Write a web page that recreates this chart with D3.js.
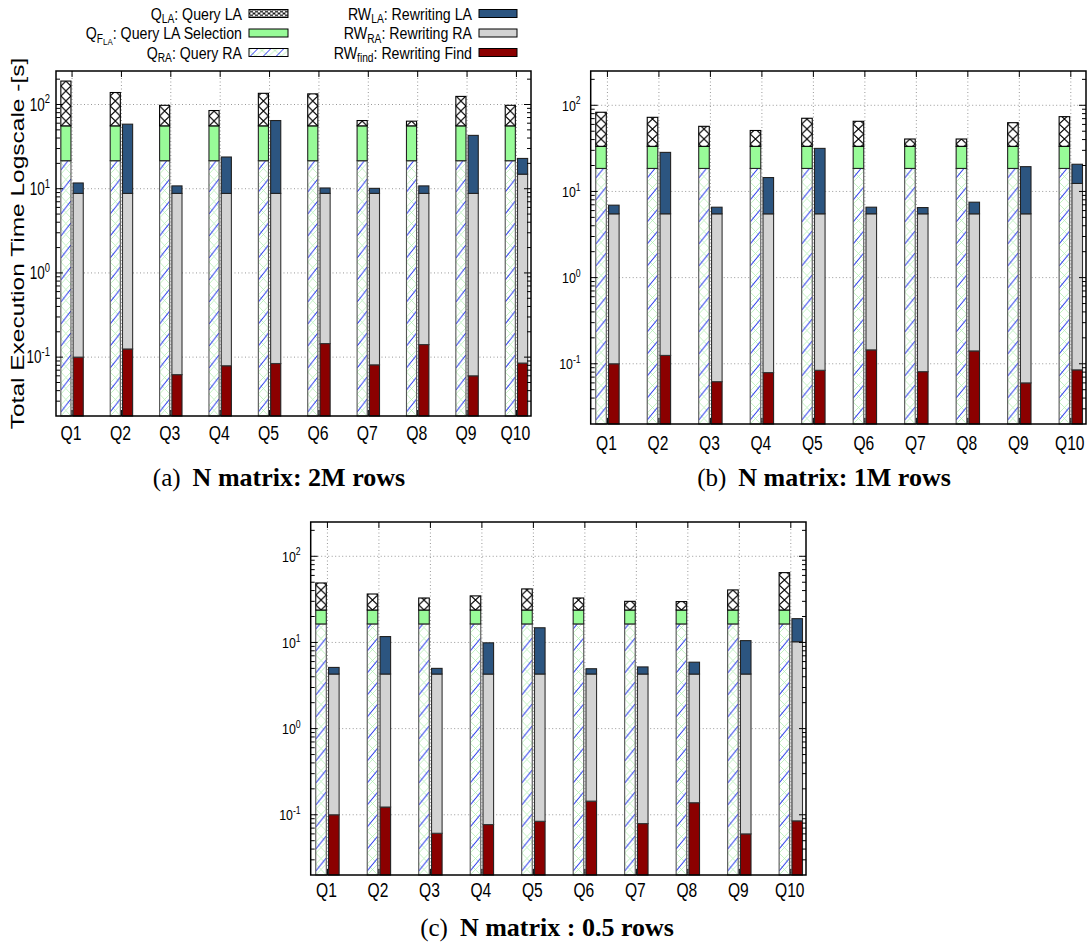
<!DOCTYPE html>
<html>
<head>
<meta charset="utf-8">
<script src="https://cdn.jsdelivr.net/npm/d3@7"></script>
<style>
  body { margin: 0; background: #fff; }
  svg { display: block; }
</style>
</head>
<body>
<svg width="1089" height="945"></svg>
<script>
const queries = ['Q1', 'Q2', 'Q3', 'Q4', 'Q5', 'Q6', 'Q7', 'Q8', 'Q9', 'Q10']
const yTicks = [0.1, 1, 10, 100]
const yTickExp = ['-1', '0', '1', '2']

// segment times [s], stacked bottom-up. left bar: Q_RA, Q_FLA, Q_LA ; right bar: RW_find, RW_RA, RW_LA
// (a) N matrix: 2M rows
const qRA2M = [21.5, 21.5, 21.5, 21.5, 21.5, 21.5, 21.5, 21.5, 21.5, 21.5]
const qFLA2M = [34.3, 34.3, 34.3, 34.3, 34.3, 34.3, 34.3, 34.3, 34.3, 34.3]
const qLA2M = [134, 83, 42, 29, 80, 78, 8.7, 7.6, 69, 42]
const rwFind2M = [0.1, 0.125, 0.062, 0.079, 0.084, 0.145, 0.081, 0.141, 0.06, 0.085]
const rwRA2M = [8.7, 8.68, 8.74, 8.72, 8.72, 8.66, 8.72, 8.66, 8.74, 14.8]
const rwLA2M = [2.9, 49.6, 2.0, 15, 55.7, 1.4, 1.3, 2.0, 34.2, 8.0]

// (b) N matrix: 1M rows
const qRA1M = [18.5, 18.5, 18.5, 18.5, 18.5, 18.5, 18.5, 18.5, 18.5, 18.5]
const qFLA1M = [14.9, 14.9, 14.9, 14.9, 14.9, 14.9, 14.9, 14.9, 14.9, 14.9]
const qLA1M = [49.6, 39.1, 23.6, 17.6, 37.3, 31.8, 7.2, 7.2, 29.4, 40.4]
const rwFind1M = [0.1, 0.125, 0.062, 0.079, 0.084, 0.145, 0.081, 0.141, 0.06, 0.085]
const rwRA1M = [5.4, 5.38, 5.44, 5.42, 5.42, 5.36, 5.42, 5.36, 5.44, 12.3]
const rwLA1M = [1.43, 22.9, 1.06, 9.0, 26.1, 1.06, 1.0, 2.0, 13.9, 8.3]

// (c) N matrix : 0.5 rows
const qRAHalf = [16.4, 16.4, 16.4, 16.4, 16.4, 16.4, 16.4, 16.4, 16.4, 16.4]
const qFLAHalf = [7.4, 7.4, 7.4, 7.4, 7.4, 7.4, 7.4, 7.4, 7.4, 7.4]
const qLAHalf = [25.2, 12.7, 9.0, 10.9, 18.0, 9.0, 6.2, 6.0, 16.9, 40.8]
const rwFindHalf = [0.1, 0.123, 0.061, 0.077, 0.084, 0.144, 0.079, 0.138, 0.06, 0.085]
const rwRAHalf = [4.2, 4.18, 4.24, 4.22, 4.22, 4.16, 4.22, 4.16, 4.24, 10.1]
const rwLAHalf = [0.83, 7.4, 0.7, 5.6, 10.5, 0.65, 0.9, 1.6, 6.2, 8.7]

// legend labels: [text, kind]
const legendLeft = [
  { key: 'qLA', parts: [['Q'], ['LA', 'sub'], [': Query LA']] },
  { key: 'qFLA', parts: [['Q'], ['F', 'sub'], ['LA', 'subsub'], [': Query LA Selection']] },
  { key: 'qRA', parts: [['Q'], ['RA', 'sub'], [': Query RA']] }
]
const legendRight = [
  { key: 'rwLA', parts: [['RW'], ['LA', 'sub'], [': Rewriting LA']] },
  { key: 'rwRA', parts: [['RW'], ['RA', 'sub'], [': Rewriting RA']] },
  { key: 'rwFind', parts: [['RW'], ['find', 'sub'], [': Rewriting Find']] }
]

const colours = { qFLA: '#98fb98', rwFind: '#8b0000', rwRA: '#d3d3d3', rwLA: '#2c5580' }
const strokes = { qRA: '#555', qFLA: '#222', qLA: '#000', rwFind: '#222', rwRA: '#333', rwLA: '#222' }

const panels = [
  { key: 'a', series: [qRA2M, qFLA2M, qLA2M, rwFind2M, rwRA2M, rwLA2M],
    left: 56, right: 531, top: 71, bottom: 416,
    sx: 0.77, yFont: 17.5, yGap: 6, xFont: 20.5, xLabelY: 440,
    caption: ['(a)', 'N matrix: 2M rows'], capX: 279, capY: 486 },
  { key: 'b', series: [qRA1M, qFLA1M, qLA1M, rwFind1M, rwRA1M, rwLA1M],
    left: 590.7, right: 1086, top: 71, bottom: 424,
    sx: 0.8, yFont: 15.5, yGap: 10, xFont: 19.5, xLabelY: 450,
    caption: ['(b)', 'N matrix: 1M rows'], capX: 824, capY: 486 },
  { key: 'c', series: [qRAHalf, qFLAHalf, qLAHalf, rwFindHalf, rwRAHalf, rwLAHalf],
    left: 310.7, right: 806, top: 522, bottom: 875,
    sx: 0.8, yFont: 15.5, yGap: 10, xFont: 19.5, xLabelY: 897,
    caption: ['(c)', 'N matrix : 0.5 rows'], capX: 547, capY: 936 }
]

const sansFont = 'Liberation Sans, Arial, sans-serif'
const svg = d3.select('svg')
const defs = svg.append('defs')

panels.forEach(p => drawPanel(p))
drawLegend()
drawYLabel()

// helpers

function squeezed (parent, x, y, sx, extra) {
  return parent.append('g')
    .attr('transform', `translate(${x},${y}) scale(${sx},1)` + (extra || ''))
    .append('text')
    .attr('font-family', sansFont)
}

function richText (t, parts, size) {
  let shift = 0
  parts.forEach(([s, kind]) => {
    let target = 0
    let fs = size
    if (kind === 'sub') { target = size * 0.22; fs = size * 0.72 }
    if (kind === 'subsub') { target = size * 0.36; fs = size * 0.56 }
    if (kind === 'sup') { target = -size * 0.42; fs = size * 0.7 }
    t.append('tspan').attr('dy', target - shift).attr('font-size', fs).text(s)
    shift = target
  })
}

function hatchPattern (id, x, y, w) {
  let pat = defs.append('pattern').attr('id', id)
    .attr('patternUnits', 'userSpaceOnUse')
    .attr('x', x).attr('y', y).attr('width', w).attr('height', 22)
  pat.append('rect').attr('width', w).attr('height', 22).attr('fill', '#fff')
  pat.append('path')
    .attr('d', `M0,0L${w},11M${w},0L0,11M0,11L${w},22M${w},11L0,22`)
    .attr('stroke', '#a8eca8').attr('stroke-width', 0.7).attr('fill', 'none')
  pat.append('path')
    .attr('d', `M0,18L${w},5`)
    .attr('stroke', '#2233ee').attr('stroke-width', 1).attr('fill', 'none')
}

function crossPattern (id, x, y, w) {
  let pat = defs.append('pattern').attr('id', id)
    .attr('patternUnits', 'userSpaceOnUse')
    .attr('x', x).attr('y', y).attr('width', w).attr('height', 10)
  pat.append('rect').attr('width', w).attr('height', 10).attr('fill', '#fff')
  pat.append('path')
    .attr('d', `M0,0L${w},10M${w},0L0,10`)
    .attr('stroke', '#000').attr('stroke-width', 1.2).attr('fill', 'none')
}

// panels

function drawPanel (p) {
  let x = d3.scaleLinear().domain([-0.325, 9.295]).range([p.left, p.right])
  let y = d3.scaleLog().domain([0.02, 250]).range([p.bottom, p.top])
  let g = svg.append('g').attr('class', `panel-${p.key}`)
  let unit = x(1) - x(0)
  let bw = 0.205 * unit
  let gap = 0.022 * unit

  // grid
  g.selectAll('.vgrid').data(queries).join('line')
    .attr('x1', (d, i) => x(i)).attr('x2', (d, i) => x(i))
    .attr('y1', p.top).attr('y2', p.bottom)
    .attr('stroke', '#999').attr('stroke-dasharray', '1,2.5')
  g.selectAll('.hgrid').data(yTicks).join('line')
    .attr('x1', p.left).attr('x2', p.right)
    .attr('y1', d => y(d)).attr('y2', d => y(d))
    .attr('stroke', '#999').attr('stroke-dasharray', '1,2.5')

  let [qRA, qFLA, qLA, rwFind, rwRA, rwLA] = p.series
  let rows = queries.map((q, i) => ({ i, qRA: qRA[i], qFLA: qFLA[i], qLA: qLA[i], rwFind: rwFind[i], rwRA: rwRA[i], rwLA: rwLA[i] }))
  let leftStack = d3.stack().keys(['qRA', 'qFLA', 'qLA'])(rows)
  let rightStack = d3.stack().keys(['rwFind', 'rwRA', 'rwLA'])(rows)

  rows.forEach(r => {
    let xl = x(r.i) - gap - bw
    hatchPattern(`pra-${p.key}-${r.i}`, xl, p.bottom, bw)
    crossPattern(`pxh-${p.key}-${r.i}`, xl, p.bottom, bw)
  })

  let fillFor = (key, i) => key === 'qRA' ? `url(#pra-${p.key}-${i})`
    : key === 'qLA' ? `url(#pxh-${p.key}-${i})` : colours[key]

  let drawStack = (stack, side) => {
    stack.forEach(layer => {
      g.selectAll(`.seg-${layer.key}`).data(layer).join('rect')
        .attr('x', d => side === 'left' ? x(d.data.i) - gap - bw : x(d.data.i) + gap)
        .attr('width', bw)
        .attr('y', d => y(d[1]))
        .attr('height', d => (d[0] > 0 ? y(d[0]) : p.bottom) - y(d[1]))
        .attr('fill', d => fillFor(layer.key, d.data.i))
        .attr('stroke', strokes[layer.key])
        .attr('stroke-width', 1.1)
    })
  }
  drawStack(leftStack, 'left')
  drawStack(rightStack, 'right')

  // ticks
  let minor = []
  ;[0.01, 0.1, 1, 10, 100].forEach(dec => {
    d3.range(2, 10).forEach(k => {
      let v = k * dec
      if (v > 0.02 && v < 250) minor.push(v)
    })
  })
  let tickPath = ''
  yTicks.forEach(v => {
    tickPath += `M${p.left},${y(v)}h7M${p.right},${y(v)}h-7`
  })
  minor.forEach(v => {
    tickPath += `M${p.left},${y(v)}h4M${p.right},${y(v)}h-4`
  })
  queries.forEach((q, i) => {
    tickPath += `M${x(i)},${p.top}v6M${x(i)},${p.bottom}v-6`
  })
  g.append('path').attr('d', tickPath).attr('stroke', '#000').attr('stroke-width', 1).attr('fill', 'none')

  // frame
  g.append('rect')
    .attr('x', p.left).attr('y', p.top)
    .attr('width', p.right - p.left).attr('height', p.bottom - p.top)
    .attr('fill', 'none').attr('stroke', '#000').attr('stroke-width', 1.5)

  // tick labels
  yTicks.forEach((v, k) => {
    let t = squeezed(g, p.left - p.yGap, y(v) + p.yFont * 0.36, p.sx)
      .attr('text-anchor', 'end').attr('font-size', p.yFont)
    richText(t, [['10'], [yTickExp[k], 'sup']], p.yFont)
  })
  queries.forEach((q, i) => {
    squeezed(g, x(i) - 1, p.xLabelY, p.sx)
      .attr('text-anchor', 'middle').attr('font-size', p.xFont)
      .text(q)
  })

  // caption
  let cap = g.append('text')
    .attr('x', p.capX).attr('y', p.capY)
    .attr('text-anchor', 'middle')
    .attr('font-family', 'Liberation Serif, Times New Roman, serif')
    .attr('font-size', 25)
  cap.append('tspan').text(p.caption[0])
  cap.append('tspan').attr('dx', 12).attr('font-weight', 'bold').attr('font-size', 26).text(p.caption[1])
}

// legend

function drawLegend () {
  let g = svg.append('g').attr('class', 'legend')
  let rowsY = [13.5, 33, 52.5]
  let size = 16.5
  let cols = [
    { items: legendLeft, textEnd: 242, sw: [249, 288] },
    { items: legendRight, textEnd: 472, sw: [479, 517] }
  ]
  cols.forEach(col => {
    col.items.forEach((item, k) => {
      let cy = rowsY[k]
      let t = squeezed(g, col.textEnd, cy + 6, 0.86)
        .attr('text-anchor', 'end').attr('font-size', size)
      richText(t, item.parts, size)
      let fill = colours[item.key]
      if (item.key === 'qRA') {
        hatchPattern('pra-leg', col.sw[0], cy - 13, 13)
        fill = 'url(#pra-leg)'
      }
      if (item.key === 'qLA') {
        defs.append('pattern').attr('id', 'pxh-leg')
          .attr('patternUnits', 'userSpaceOnUse')
          .attr('x', col.sw[0]).attr('y', cy - 4).attr('width', 5).attr('height', 4)
          .call(pat => {
            pat.append('rect').attr('width', 5).attr('height', 4).attr('fill', '#fff')
            pat.append('path').attr('d', 'M0,0L5,4M5,0L0,4')
              .attr('stroke', '#000').attr('stroke-width', 1).attr('fill', 'none')
          })
        fill = 'url(#pxh-leg)'
      }
      g.append('rect')
        .attr('x', col.sw[0]).attr('y', cy - 4)
        .attr('width', col.sw[1] - col.sw[0]).attr('height', 8)
        .attr('fill', fill)
        .attr('stroke', '#000').attr('stroke-width', 1)
    })
  })
}

function drawYLabel () {
  squeezed(svg, 24, 243.5, 0.75, ' rotate(-90)')
    .attr('text-anchor', 'middle').attr('font-size', 24.5)
    .text('Total Execution Time Logscale -[s]')
}
</script>
</body>
</html>
